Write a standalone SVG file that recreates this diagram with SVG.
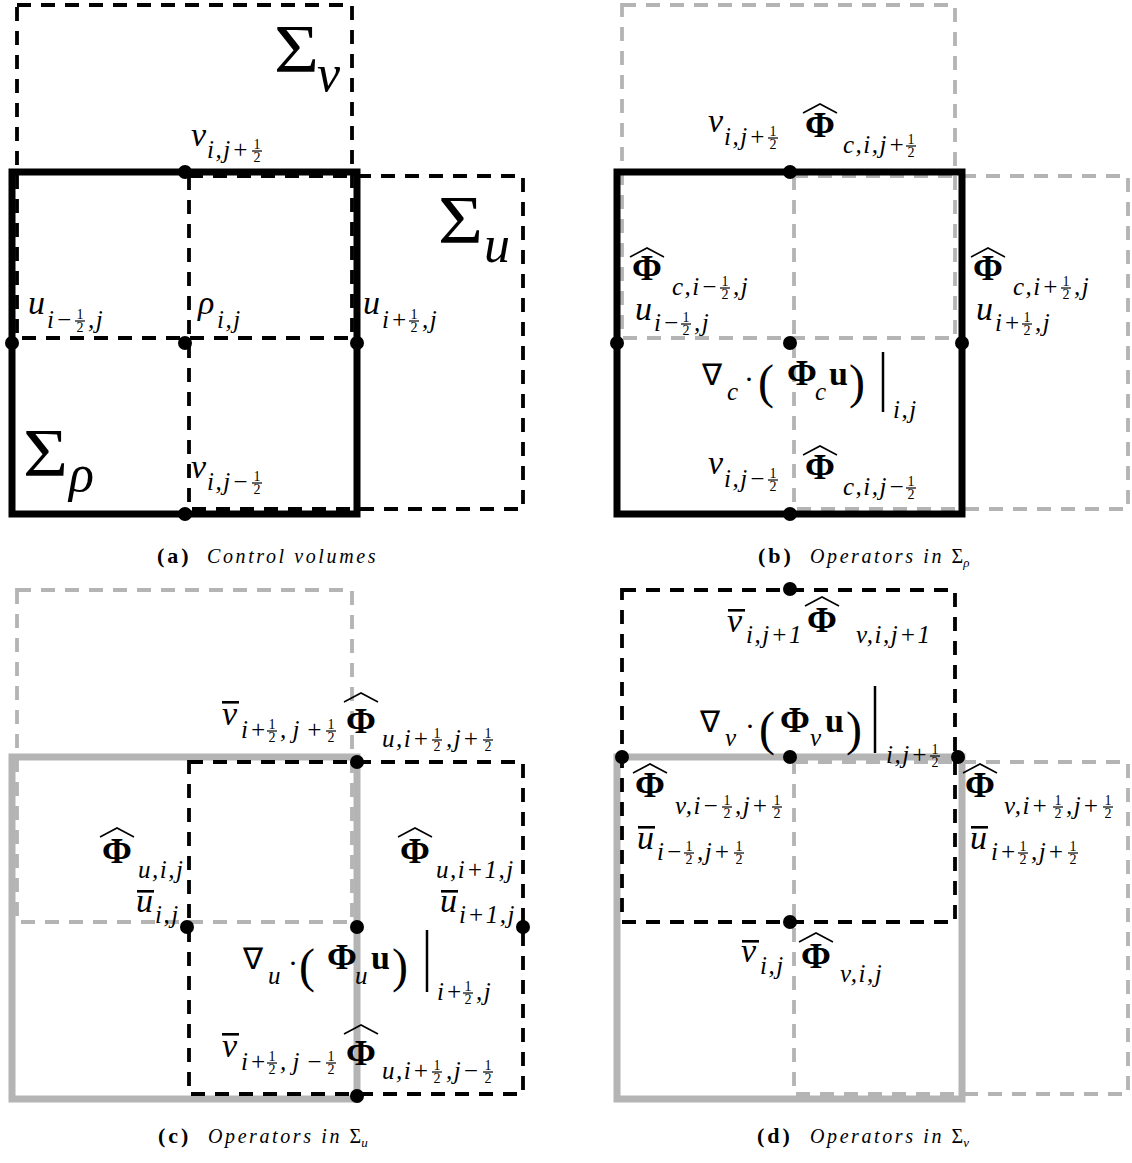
<svg xmlns="http://www.w3.org/2000/svg" xmlns:xlink="http://www.w3.org/1999/xlink" width="1132" height="1163" viewBox="0 0 1132 1163">
<style>
text { fill: #000; font-family: "Liberation Serif", "Times New Roman", serif; }
.m { font-style: italic; font-size: 34px; }
.s { font-style: italic; font-size: 25px; letter-spacing: 1.5px; }
.f { font-size: 14px; text-anchor: middle; }
.P { font-weight: bold; font-size: 36px; }
.U { font-weight: bold; font-size: 34px; }
.o { font-size: 30px; }
.pa { font-size: 48px; }
.S { font-size: 68px; }
.Ss { font-style: italic; font-size: 52px; }
.cb { font-weight: bold; font-size: 22px; letter-spacing: 3px; }
.ci { font-style: italic; font-size: 20px; letter-spacing: 2.6px; }
.cs { font-style: normal; font-size: 20px; letter-spacing: 0; }
.css { font-style: italic; font-size: 13px; letter-spacing: 0; }
.thk { fill: none; stroke: #000; stroke-width: 7; }
.thg { fill: none; stroke: #b4b4b4; stroke-width: 7; }
.dk { fill: none; stroke: #000; stroke-width: 3.8; stroke-dasharray: 14 10; }
.dg { fill: none; stroke: #b4b4b4; stroke-width: 3.8; stroke-dasharray: 14 10; }
.dot { fill: #000; }
.vb { stroke: #000; stroke-width: 2.5; }
</style>
<defs>
<g id="h"><text class="f" x="5" y="-2.5">1</text><line x1="0" y1="0" x2="10" y2="0" stroke="#000" stroke-width="1.2"/><text class="f" x="5" y="11">2</text></g>
<path id="hat" d="M0,9 L17,0 L34,9" fill="none" stroke="#000" stroke-width="1.6"/>
<rect id="ob" x="0" y="0" width="17" height="2.6" fill="#000"/>
</defs>

<!-- Panel (a) -->
<g id="panel-a">
  <g id="a-shapes">
    <rect class="thk" x="12" y="172" width="345" height="342"/>
    <rect class="dk" x="17" y="5" width="335" height="333"/>
    <rect class="dk" x="189" y="176" width="334" height="333"/>
  </g>
  <g id="a-dots">
    <circle class="dot" cx="185" cy="172" r="7"/>
    <circle class="dot" cx="12" cy="343" r="7"/>
    <circle class="dot" cx="185" cy="343" r="7"/>
    <circle class="dot" cx="357" cy="343" r="7"/>
    <circle class="dot" cx="185" cy="514" r="7"/>
  </g>
  <g id="a-labels">
    <text class="S" x="274" y="71" textLength="45" lengthAdjust="spacingAndGlyphs">Σ</text><text class="Ss" x="317" y="91">v</text>
    <text class="S" x="438" y="242" textLength="45" lengthAdjust="spacingAndGlyphs">Σ</text><text class="Ss" x="484" y="262">u</text>
    <text class="S" x="23" y="475" textLength="45" lengthAdjust="spacingAndGlyphs">Σ</text><text class="Ss" x="69" y="491" font-size="56">ρ</text>

    <text class="m" x="191" y="146">v</text><text class="s" x="207" y="158">i,j+</text><use href="#h" x="252" y="151"/>
    <text class="m" x="28" y="314">u</text><text class="s" x="47" y="328">i−</text><use href="#h" x="75" y="321"/><text class="s" x="88" y="328">,j</text>
    <text class="m" x="198" y="314">ρ</text><text class="s" x="217" y="328">i,j</text>
    <text class="m" x="363" y="314">u</text><text class="s" x="382" y="328">i+</text><use href="#h" x="409" y="321"/><text class="s" x="422" y="328">,j</text>
    <text class="m" x="191" y="478">v</text><text class="s" x="207" y="490">i,j−</text><use href="#h" x="252" y="483"/>
  </g>
  <g id="a-caption">
    <text class="cb" x="157" y="563">(a)</text>
    <text class="ci" x="207" y="563">Control volumes</text>
  </g>
</g>

<!-- Panel (b) -->
<g id="panel-b">
  <g id="b-shapes">
    <rect class="dg" x="622" y="5" width="333" height="333"/>
    <rect class="dg" x="794" y="176" width="334" height="333"/>
    <rect class="thk" x="617" y="172" width="345" height="342"/>
  </g>
  <g id="b-dots">
    <circle class="dot" cx="790" cy="172" r="7"/>
    <circle class="dot" cx="617" cy="343" r="7"/>
    <circle class="dot" cx="790" cy="343" r="7"/>
    <circle class="dot" cx="962" cy="343" r="7"/>
    <circle class="dot" cx="790" cy="514" r="7"/>
  </g>
  <g id="b-labels">
    <text class="m" x="708" y="132">v</text><text class="s" x="724" y="145">i,j+</text><use href="#h" x="768" y="138"/>
    <use href="#hat" x="803" y="104"/><text class="P" x="805" y="137">Φ</text><text class="s" x="843" y="153">c,i,j+</text><use href="#h" x="906" y="146"/>

    <use href="#hat" x="630" y="248"/><text class="P" x="632" y="280">Φ</text><text class="s" x="672" y="295">c,i−</text><use href="#h" x="720" y="288"/><text class="s" x="733" y="295">,j</text>
    <text class="m" x="635" y="320">u</text><text class="s" x="654" y="331">i−</text><use href="#h" x="681" y="324"/><text class="s" x="694" y="331">,j</text>

    <use href="#hat" x="971" y="248"/><text class="P" x="973" y="280">Φ</text><text class="s" x="1013" y="295">c,i+</text><use href="#h" x="1061" y="288"/><text class="s" x="1074" y="295">,j</text>
    <text class="m" x="976" y="320">u</text><text class="s" x="995" y="331">i+</text><use href="#h" x="1022" y="324"/><text class="s" x="1035" y="331">,j</text>

    <text class="o" x="702" y="385">∇</text><text class="s" x="727" y="400">c</text><text class="o" x="744" y="389">·</text>
    <text class="pa" x="758" y="398">(</text><text class="P" x="787" y="385">Φ</text><text class="s" x="815" y="400">c</text><text class="U" x="829" y="385">u</text><text class="pa" x="849" y="398">)</text>
    <line class="vb" x1="883" y1="352" x2="883" y2="412"/><text class="s" x="893" y="418">i,j</text>

    <text class="m" x="708" y="474">v</text><text class="s" x="724" y="487">i,j−</text><use href="#h" x="768" y="480"/>
    <use href="#hat" x="803" y="446"/><text class="P" x="805" y="479">Φ</text><text class="s" x="843" y="495">c,i,j−</text><use href="#h" x="906" y="488"/>
  </g>
  <g id="b-caption">
    <text class="cb" x="758" y="563">(b)</text>
    <text class="ci" x="810" y="563">Operators in <tspan class="cs">Σ</tspan><tspan class="css" dy="4">ρ</tspan></text>
  </g>
</g>

<!-- Panel (c) -->
<g id="panel-c">
  <g id="c-shapes">
    <rect class="dg" x="17" y="590" width="335" height="332"/>
    <rect class="thg" x="12" y="757" width="345" height="342"/>
    <rect class="dk" x="189" y="762" width="334" height="332"/>
  </g>
  <g id="c-dots">
    <circle class="dot" cx="357" cy="762" r="7"/>
    <circle class="dot" cx="187" cy="927" r="7"/>
    <circle class="dot" cx="357" cy="927" r="7"/>
    <circle class="dot" cx="523" cy="927" r="7"/>
    <circle class="dot" cx="357" cy="1096" r="7"/>
  </g>
  <g id="c-labels">
    <use href="#ob" x="222" y="701"/><text class="m" x="222" y="725">v</text><text class="s" x="241" y="738">i+</text><use href="#h" x="267" y="731"/><text class="s" x="280" y="738" textLength="44">,j+</text><use href="#h" x="326" y="731"/>
    <use href="#hat" x="344" y="693"/><text class="P" x="346" y="733">Φ</text><text class="s" x="382" y="747">u,i+</text><use href="#h" x="432" y="740"/><text class="s" x="446" y="747">,j+</text><use href="#h" x="483" y="740"/>

    <use href="#hat" x="100" y="828"/><text class="P" x="102" y="863">Φ</text><text class="s" x="138" y="878">u,i,j</text>
    <use href="#ob" x="137" y="890"/><text class="m" x="136" y="912">u</text><text class="s" x="155" y="923">i,j</text>

    <use href="#hat" x="398" y="828"/><text class="P" x="400" y="863">Φ</text><text class="s" x="436" y="878">u,i+1,j</text>
    <use href="#ob" x="441" y="890"/><text class="m" x="440" y="912">u</text><text class="s" x="459" y="923">i+1,j</text>

    <text class="o" x="243" y="969">∇</text><text class="s" x="268" y="984">u</text><text class="o" x="288" y="973">·</text>
    <text class="pa" x="299" y="982">(</text><text class="P" x="327" y="969">Φ</text><text class="s" x="355" y="984">u</text><text class="U" x="371" y="969">u</text><text class="pa" x="392" y="982">)</text>
    <line class="vb" x1="427" y1="930" x2="427" y2="992"/><text class="s" x="437" y="1000">i+</text><use href="#h" x="463" y="993"/><text class="s" x="476" y="1000">,j</text>

    <use href="#ob" x="222" y="1033"/><text class="m" x="222" y="1057">v</text><text class="s" x="241" y="1070">i+</text><use href="#h" x="267" y="1063"/><text class="s" x="280" y="1070" textLength="44">,j−</text><use href="#h" x="326" y="1063"/>
    <use href="#hat" x="344" y="1025"/><text class="P" x="346" y="1065">Φ</text><text class="s" x="382" y="1079">u,i+</text><use href="#h" x="432" y="1072"/><text class="s" x="446" y="1079">,j−</text><use href="#h" x="483" y="1072"/>
  </g>
  <g id="c-caption">
    <text class="cb" x="158" y="1143">(c)</text>
    <text class="ci" x="208" y="1143">Operators in <tspan class="cs">Σ</tspan><tspan class="css" dy="4">u</tspan></text>
  </g>
</g>

<!-- Panel (d) -->
<g id="panel-d">
  <g id="d-shapes">
    <rect class="thg" x="617" y="757" width="345" height="342"/>
    <rect class="dg" x="794" y="762" width="334" height="332"/>
    <rect class="dk" x="622" y="590" width="333" height="332"/>
  </g>
  <g id="d-dots">
    <circle class="dot" cx="790" cy="589" r="7"/>
    <circle class="dot" cx="622" cy="757" r="7"/>
    <circle class="dot" cx="790" cy="757" r="7"/>
    <circle class="dot" cx="958" cy="757" r="7"/>
    <circle class="dot" cx="790" cy="922" r="7"/>
  </g>
  <g id="d-labels">
    <use href="#ob" x="728" y="609"/><text class="m" x="727" y="632">v</text><text class="s" x="746" y="643">i,j+1</text>
    <use href="#hat" x="805" y="597"/><text class="P" x="807" y="632">Φ</text><text class="s" x="856" y="643">v,i,j+1</text>

    <text class="o" x="700" y="732">∇</text><text class="s" x="725" y="746">v</text><text class="o" x="745" y="736">·</text>
    <text class="pa" x="759" y="745">(</text><text class="P" x="780" y="732">Φ</text><text class="s" x="810" y="746">v</text><text class="U" x="825" y="732">u</text><text class="pa" x="846" y="745">)</text>
    <line class="vb" x1="875" y1="686" x2="875" y2="753"/><text class="s" x="886" y="763">i,j+</text><use href="#h" x="930" y="756"/>

    <use href="#hat" x="633" y="764"/><text class="P" x="635" y="797">Φ</text><text class="s" x="675" y="814">v,i−</text><use href="#h" x="722" y="807"/><text class="s" x="735" y="814">,j+</text><use href="#h" x="772" y="807"/>
    <use href="#ob" x="638" y="826"/><text class="m" x="637" y="849">u</text><text class="s" x="657" y="860">i−</text><use href="#h" x="684" y="853"/><text class="s" x="697" y="860">,j+</text><use href="#h" x="734" y="853"/>

    <use href="#hat" x="963" y="764"/><text class="P" x="965" y="797">Φ</text><text class="s" x="1004" y="814">v,i+</text><use href="#h" x="1053" y="807"/><text class="s" x="1066" y="814">,j+</text><use href="#h" x="1103" y="807"/>
    <use href="#ob" x="971" y="826"/><text class="m" x="970" y="849">u</text><text class="s" x="991" y="860">i+</text><use href="#h" x="1018" y="853"/><text class="s" x="1031" y="860">,j+</text><use href="#h" x="1068" y="853"/>

    <use href="#ob" x="742" y="940"/><text class="m" x="741" y="962">v</text><text class="s" x="760" y="974">i,j</text>
    <use href="#hat" x="799" y="933"/><text class="P" x="801" y="968">Φ</text><text class="s" x="840" y="982">v,i,j</text>
  </g>
  <g id="d-caption">
    <text class="cb" x="757" y="1143">(d)</text>
    <text class="ci" x="810" y="1143">Operators in <tspan class="cs">Σ</tspan><tspan class="css" dy="4">v</tspan></text>
  </g>
</g>
</svg>
